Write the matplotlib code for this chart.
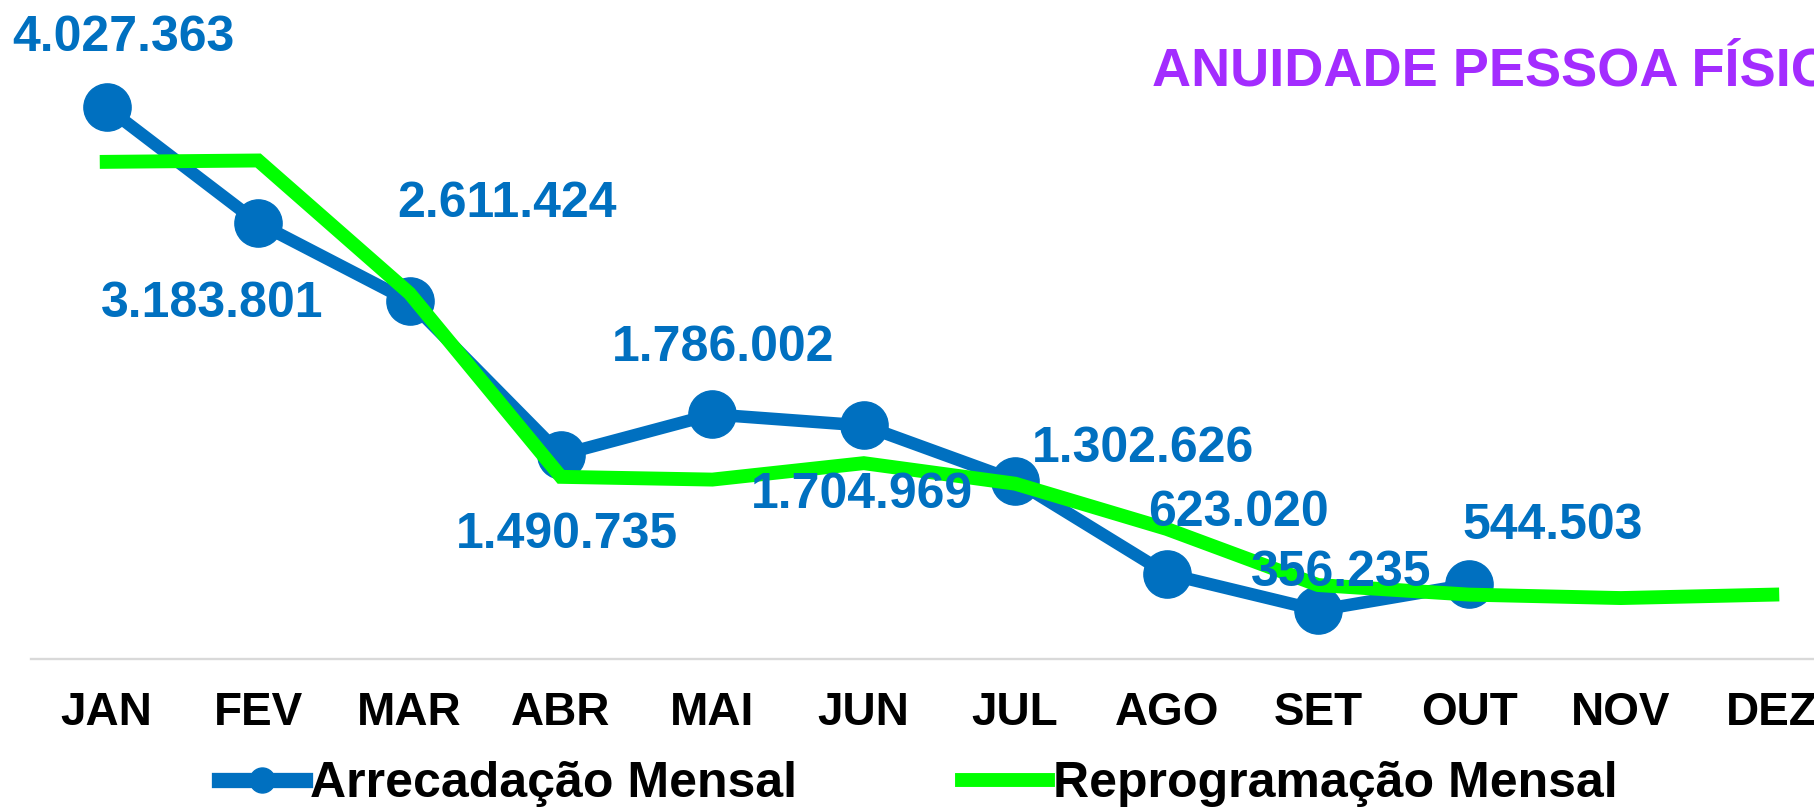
import numpy as np
import matplotlib
matplotlib.use('Agg')
import matplotlib.pyplot as plt
from matplotlib.lines import Line2D

plt.rcParams['font.family'] = ['Liberation Sans', 'DejaVu Sans']
plt.rcParams['font.weight'] = 'bold'

######################################
# data
meses = ['JAN', 'FEV', 'MAR', 'ABR', 'MAI', 'JUN', 'JUL', 'AGO', 'SET', 'OUT', 'NOV', 'DEZ']

# Arrecadacao Mensal (only JAN..OUT)
arrecadacao = [4027363, 3183801, 2611424, 1490735, 1786002, 1704969, 1302626, 623020, 356235, 544503]

# Reprogramacao Mensal (approx.)
reprogramacao = [3630000, 3640000, 2670000, 1330000, 1310000, 1430000, 1280000, 950000, 540000, 470000, 445000, 470000]

titulo = 'ANUIDADE PESSOA FÍSICA'

# label offsets in points (dx, dy) relative to each marker
label_offsets = [(12, 50), (-33, -58), (70, 70), (4, -58), (8, 48),
                 (-1, -50), (92, 23), (52, 44), (17, 27), (60, 42)]

blue = '#0070C0'
green = '#00FF00'

############################################
# plot
fig = plt.figure(figsize=(18.14, 8.10), dpi=100)
ax = fig.add_axes([31/1814, 151/810, 1817/1814, 630/810])

x = np.arange(len(meses))
xa = x[:len(arrecadacao)]

ax.plot(xa, arrecadacao, color=blue, lw=9, marker='o', ms=34,
        solid_capstyle='round', zorder=3)
ax.plot(x, reprogramacao, color=green, lw=10, solid_joinstyle='miter', zorder=4)

for i, v in enumerate(arrecadacao):
    txt = '{:,}'.format(v).replace(',', '.')
    ax.annotate(txt, (xa[i], v), xytext=label_offsets[i], textcoords='offset points',
                ha='center', va='center', fontsize=36, color=blue,
                fontweight='bold', zorder=5)

ax.set_xlim(-0.5, 11.5)
ax.set_ylim(0, 4.6e6)
ax.set_xticks(x)
ax.set_xticklabels(meses, fontsize=33, fontweight='bold')
ax.tick_params(axis='x', length=0, pad=23)
ax.set_yticks([])
for s in ['top', 'right', 'left']:
    ax.spines[s].set_visible(False)
ax.spines['bottom'].set_color('#D9D9D9')
ax.spines['bottom'].set_linewidth(1.7)

# title (cut at the right edge like the original)
fig.text(1152/1814, 1 - 86/810, titulo, fontsize=39, fontweight='bold',
         color='#A32CFF', ha='left', va='baseline')

# legend
handles = [Line2D([], [], color=blue, lw=11, marker='o', ms=18),
           Line2D([], [], color=green, lw=10)]
fig.legend(handles, ['Arrecadação Mensal', 'Reprogramação Mensal'],
           loc='center', bbox_to_anchor=(0.506, 0.032), ncol=2, frameon=False,
           fontsize=36, handlelength=1.72, handletextpad=0.1,
           columnspacing=3.3, borderpad=0, borderaxespad=0)

fig.savefig('out.png', dpi=100)
